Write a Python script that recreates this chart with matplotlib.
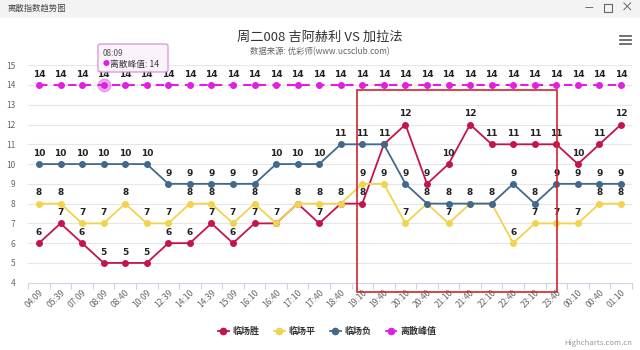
import matplotlib
matplotlib.use("Agg")
import matplotlib.pyplot as plt
from matplotlib.patches import Rectangle, FancyBboxPatch
from matplotlib.lines import Line2D

plt.rcParams['font.family'] = ['Noto Sans CJK SC', 'DejaVu Sans']

times = ["04:09", "05:39", "07:09", "08:09", "08:40", "10:09", "12:39", "14:10",
         "14:39", "15:09", "16:10", "16:40", "17:10", "17:40", "18:40", "19:10",
         "19:40", "20:10", "20:40", "21:10", "21:40", "22:10", "22:40", "23:10",
         "23:40", "00:10", "00:40", "01:10"]
win = [6, 7, 6, 5, 5, 5, 6, 6, 7, 6, 7, 7, 8, 7, 8, 8, 11, 12, 9, 10, 12, 11, 11, 11, 11, 10, 11, 12]
draw = [8, 8, 7, 7, 8, 7, 7, 8, 8, 7, 8, 7, 8, 8, 8, 9, 9, 7, 8, 7, 8, 8, 6, 7, 7, 7, 8, 8]
lose = [10, 10, 10, 10, 10, 10, 9, 9, 9, 9, 9, 10, 10, 10, 11, 11, 11, 9, 8, 8, 8, 8, 9, 8, 9, 9, 9, 9]
peak = [14] * 28
series_names = ["临场胜", "临场平", "临场负", "离散峰值"]
colors = ["#c4154a", "#f2d34f", "#41698e", "#e020e0"]

fig = plt.figure(figsize=(6.4, 3.5), dpi=100)
fig.patch.set_facecolor("white")

# window header
fig.patches.append(Rectangle((0, 1 - 18 / 350), 1, 18 / 350, transform=fig.transFigure,
                             facecolor="#f3f3f3", edgecolor="none", zorder=0))
fig.text(8 / 640, 1 - 8 / 350, "离散指数趋势图", fontsize=6, color="#444444", va="center", ha="left")
fig.text(589 / 640, 1 - 8 / 350, "—", fontsize=7, color="#555555", va="center", ha="center")
fig.patches.append(Rectangle((604 / 640, 1 - 12 / 350), 8 / 640, 8 / 350, transform=fig.transFigure,
                             facecolor="none", edgecolor="#666666", lw=0.8))
fig.text(627 / 640, 1 - 8 / 350, "×", fontsize=9, color="#555555", va="center", ha="center")

# hamburger
for yy in (36, 40, 44):
    fig.lines.append(Line2D([620 / 640, 631 / 640], [1 - yy / 350, 1 - yy / 350],
                            transform=fig.transFigure, color="#666666", lw=1.3))

fig.text(0.5, 1 - 37 / 350, "周二008 吉阿赫利 VS 加拉法", fontsize=9.5, color="#333333",
         ha="center", va="center")
fig.text(0.5, 1 - 52 / 350, "数据来源: 优彩师(www.ucsclub.com)", fontsize=6, color="#666666",
         ha="center", va="center")

ax = fig.add_axes([28.2 / 640, 1 - 282.7 / 350, (631.8 - 28.2) / 640, (282.7 - 65.2) / 350])
ax.set_xlim(-0.5, len(times) - 0.5)
ax.set_ylim(4, 15)
x = list(range(len(times)))

for s, c in zip([win, draw, lose], colors[:3]):
    ax.plot(x, s, color=c, lw=1.3, marker="o", markersize=4, zorder=3)
ax.plot(x, peak, color=colors[3], lw=1.5, ls=(0, (4, 3)), marker="o", markersize=4, zorder=3)
ax.plot([3], [peak[3]], marker="o", markersize=9, color=colors[3], alpha=0.35, zorder=2)

labelled = set()
for s in [win, draw, lose, peak]:
    for xi, v in zip(x, s):
        if (xi, v) in labelled:
            continue
        labelled.add((xi, v))
        ax.annotate(str(v), (xi, v), xytext=(0, 4.5), textcoords="offset points",
                    ha="center", va="bottom", fontsize=6.5, fontweight="bold",
                    color="#222222", zorder=5, family="DejaVu Sans")

ax.set_yticks(range(4, 16))
ax.set_yticklabels([str(v) for v in range(4, 16)], fontsize=6, color="#666666")
ax.grid(axis="y", color="#e6e6e6", lw=0.8)
ax.set_axisbelow(True)
ax.tick_params(axis="y", length=0, pad=9)
ax.set_xticks(x)
ax.set_xticklabels(times, rotation=45, ha="right", rotation_mode="anchor",
                   fontsize=6.2, color="#666666")
ax.set_xticks([i - 0.5 for i in range(len(times) + 1)], minor=True)
ax.tick_params(axis="x", which="major", length=0, pad=4)
ax.tick_params(axis="x", which="minor", length=4, color="#ccd6eb", width=0.8)
for sp in ["top", "right", "left"]:
    ax.spines[sp].set_visible(False)
ax.spines["bottom"].set_color("#ccd6eb")
ax.spines["bottom"].set_linewidth(0.8)

# highlight rectangle
ax.add_patch(Rectangle((14.75, 3.53), 24.04 - 14.75, 13.75 - 3.53, fill=False,
                       edgecolor="#d0242c", lw=1.2, clip_on=False, zorder=6))

# tooltip
tip = FancyBboxPatch((98 / 640, 1 - 72 / 350), 70 / 640, 28 / 350, transform=fig.transFigure,
                     boxstyle="round,pad=0,rounding_size=0.005", facecolor="#fbf3fb",
                     edgecolor="#d88ad8", lw=0.9, zorder=10, alpha=0.95)
fig.patches.append(tip)
fig.text(103 / 640, 1 - 54 / 350, "08:09", fontsize=6, color="#555555", va="center", zorder=11)
fig.text(103 / 640, 1 - 64.5 / 350, "●", fontsize=5, color=colors[3], va="center", zorder=11)
fig.text(110 / 640, 1 - 64.5 / 350, "离散峰值: 14", fontsize=6.3, color="#333333", va="center", zorder=11)

# legend
handles = [Line2D([], [], color=c, lw=1.3, marker="o", markersize=4.5) for c in colors]
leg = fig.legend(handles, series_names, loc="center", bbox_to_anchor=(327 / 640, 1 - 331 / 350),
                 ncol=4, frameon=False, fontsize=6.5, handlelength=1.2, handletextpad=0.4,
                 columnspacing=1.6)
for t in leg.get_texts():
    t.set_fontweight("bold")
    t.set_color("#333333")

fig.text(632 / 640, 1 - 343 / 350, "Highcharts.com.cn", fontsize=5.5, color="#999999",
         ha="right", va="center")

fig.savefig("out.png", dpi=100)
